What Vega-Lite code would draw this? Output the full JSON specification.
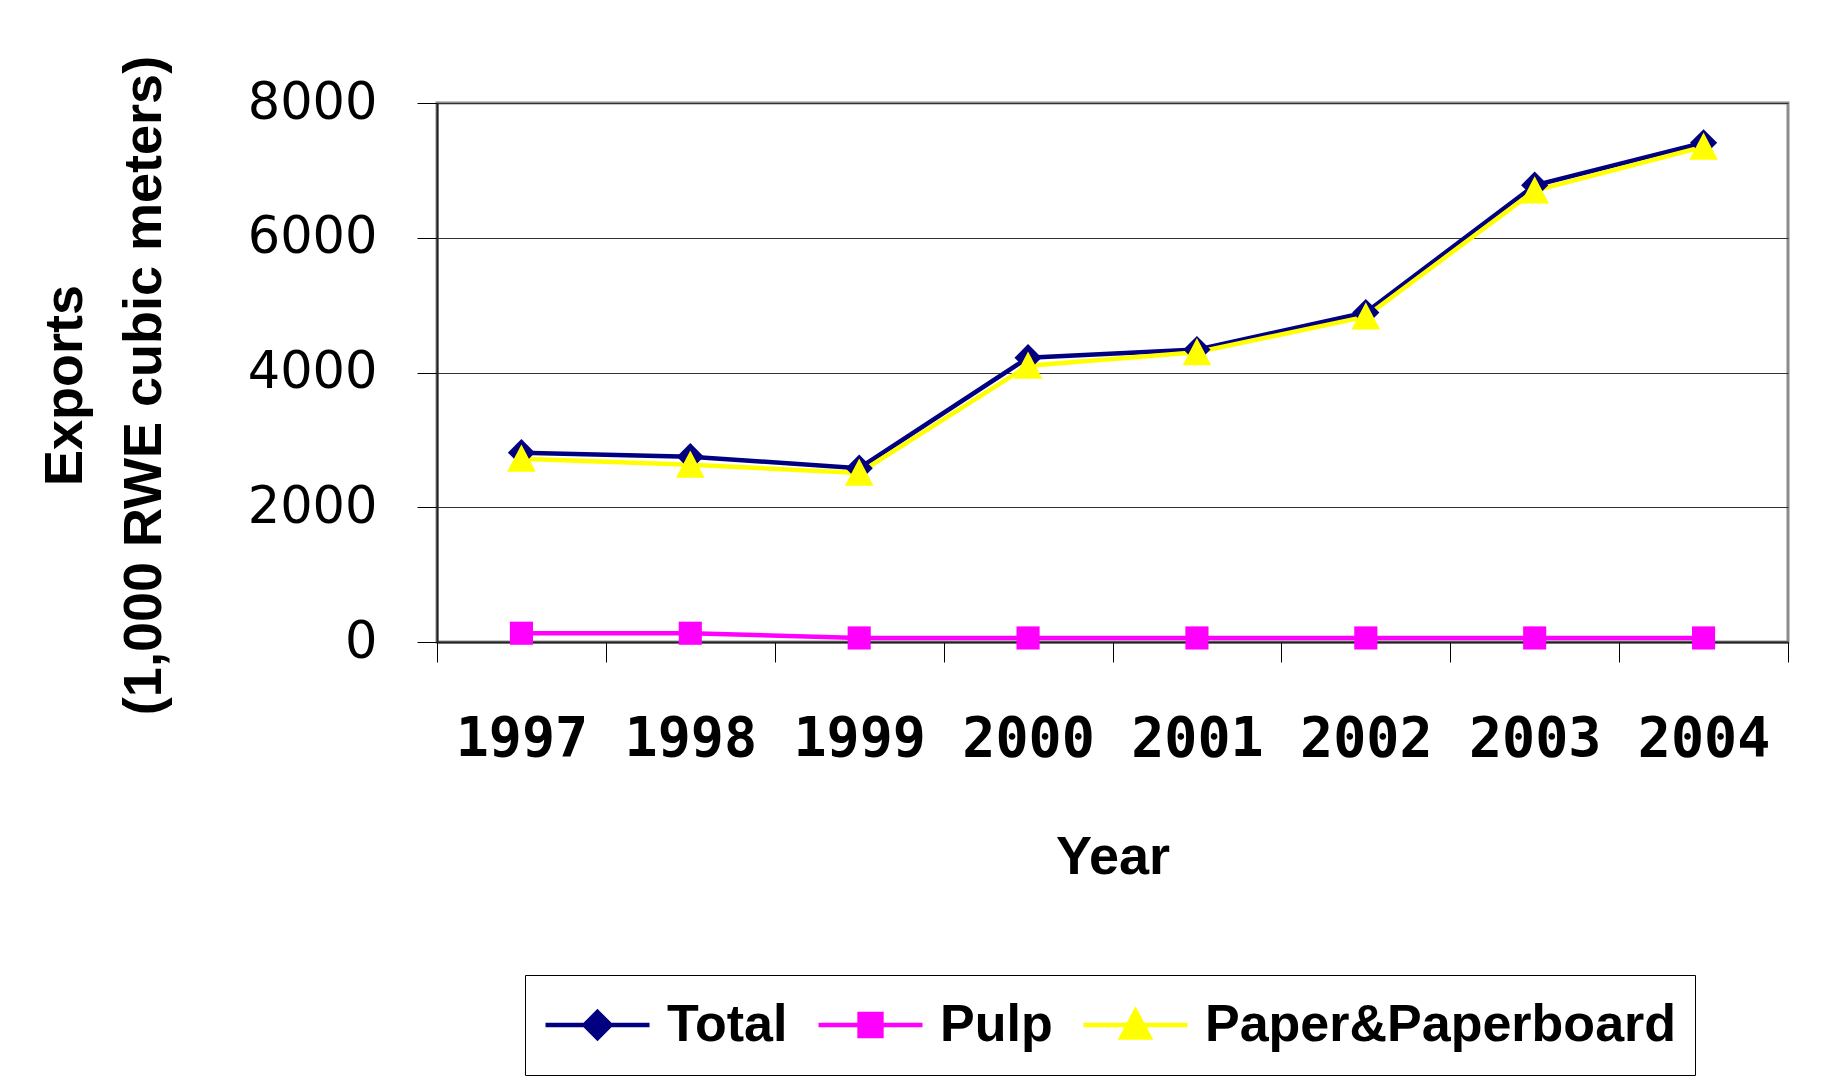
{
  "$schema": "https://vega.github.io/schema/vega-lite/v6.json",
  "width": 1351,
  "height": 539,
  "autosize": {"type": "none"},
  "padding": {"left": 437, "top": 103, "right": 40, "bottom": 440},
  "background": "white",
  "config": {
    "view": {"stroke": "#8c8c8c", "strokeWidth": 3}
  },
  "data": {
    "values": [
      {"Year": "1997", "Series": "Total", "Exports": 2810},
      {"Year": "1998", "Series": "Total", "Exports": 2750},
      {"Year": "1999", "Series": "Total", "Exports": 2580},
      {"Year": "2000", "Series": "Total", "Exports": 4220},
      {"Year": "2001", "Series": "Total", "Exports": 4340},
      {"Year": "2002", "Series": "Total", "Exports": 4890},
      {"Year": "2003", "Series": "Total", "Exports": 6780},
      {"Year": "2004", "Series": "Total", "Exports": 7410},
      {"Year": "1997", "Series": "Pulp", "Exports": 130},
      {"Year": "1998", "Series": "Pulp", "Exports": 130},
      {"Year": "1999", "Series": "Pulp", "Exports": 60},
      {"Year": "2000", "Series": "Pulp", "Exports": 60},
      {"Year": "2001", "Series": "Pulp", "Exports": 60},
      {"Year": "2002", "Series": "Pulp", "Exports": 60},
      {"Year": "2003", "Series": "Pulp", "Exports": 60},
      {"Year": "2004", "Series": "Pulp", "Exports": 60},
      {"Year": "1997", "Series": "Paper&Paperboard", "Exports": 2720},
      {"Year": "1998", "Series": "Paper&Paperboard", "Exports": 2630},
      {"Year": "1999", "Series": "Paper&Paperboard", "Exports": 2510},
      {"Year": "2000", "Series": "Paper&Paperboard", "Exports": 4100},
      {"Year": "2001", "Series": "Paper&Paperboard", "Exports": 4300},
      {"Year": "2002", "Series": "Paper&Paperboard", "Exports": 4830},
      {"Year": "2003", "Series": "Paper&Paperboard", "Exports": 6700},
      {"Year": "2004", "Series": "Paper&Paperboard", "Exports": 7350}
    ]
  },
  "encoding": {
    "x": {
      "field": "Year",
      "type": "ordinal",
      "bandPosition": 0.5,
      "scale": {"type": "band", "paddingInner": 0, "paddingOuter": 0},
      "axis": {
        "title": "Year",
        "labelAngle": 0,
        "tickBand": "extent",
        "grid": false,
        "domainColor": "#222222",
        "domainWidth": 2,
        "tickColor": "black",
        "tickWidth": 1,
        "tickSize": 20,
        "labelFont": "DejaVu Sans Mono",
        "labelFontWeight": "bold",
        "labelFontSize": 55,
        "labelColor": "black",
        "labelPadding": 50,
        "titleFont": "Liberation Sans",
        "titleFontWeight": "bold",
        "titleFontSize": 54,
        "titleColor": "black",
        "titlePadding": 64
      }
    },
    "y": {
      "field": "Exports",
      "type": "quantitative",
      "scale": {"domain": [0, 8000], "nice": false},
      "axis": {
        "title": ["Exports", "(1,000 RWE cubic meters)"],
        "values": [0, 2000, 4000, 6000, 8000],
        "format": "d",
        "grid": true,
        "gridColor": "#333333",
        "gridWidth": 1,
        "domainColor": "#222222",
        "domainWidth": 2,
        "tickColor": "black",
        "tickWidth": 1,
        "tickSize": 20,
        "labelFont": "DejaVu Sans",
        "labelFontSize": 51,
        "labelColor": "black",
        "labelPadding": 40,
        "titleFont": "Liberation Sans",
        "titleFontWeight": "bold",
        "titleFontSize": 54,
        "titleColor": "black",
        "titleLineHeight": 79,
        "titlePadding": 76,
        "titleY": 282
      }
    },
    "color": {
      "field": "Series",
      "type": "nominal",
      "sort": ["Total", "Pulp", "Paper&Paperboard"],
      "scale": {
        "domain": ["Total", "Pulp", "Paper&Paperboard"],
        "range": ["#000080", "#FF00FF", "#FFFF00"]
      },
      "legend": {
        "title": null,
        "orient": "none",
        "legendX": 88,
        "legendY": 872,
        "direction": "horizontal",
        "strokeColor": "black",
        "padding": 18,
        "symbolSize": 10816,
        "symbolStrokeWidth": 4.5,
        "clipHeight": 64,
        "labelFont": "Liberation Sans",
        "labelFontSize": 52,
        "labelFontWeight": "bold",
        "labelColor": "black",
        "labelLimit": 1000,
        "labelOffset": 15,
        "columnPadding": 28,
        "encode": {
          "symbols": {
            "update": {
              "shape": {"signal": "datum.value === 'Total' ? 'M-1,0H1M0,-0.25L0.25,0L0,0.25L-0.25,0Z' : datum.value === 'Pulp' ? 'M-1,0H1M-0.21,-0.21H0.21V0.21H-0.21Z' : 'M-1,0H1M0,-0.27L0.27,0.24H-0.27Z'"},
              "stroke": {"signal": "scale('color', datum.value)"},
              "fill": {"signal": "scale('color', datum.value)"},
              "strokeWidth": {"value": 4.5},
              "opacity": {"value": 1}
            }
          }
        }
      }
    }
  },
  "layer": [
    {"mark": {"type": "line", "strokeWidth": 4.5}},
    {
      "transform": [{"filter": "datum.Series === 'Total'"}],
      "mark": {"type": "point", "filled": true, "size": 740, "opacity": 1, "shape": "M-1,0L0,-1L1,0L0,1Z"}
    },
    {
      "transform": [{"filter": "datum.Series === 'Pulp'"}],
      "mark": {"type": "point", "filled": true, "size": 740, "opacity": 1, "shape": "M-0.85,-0.85H0.85V0.85H-0.85Z"}
    },
    {
      "transform": [{"filter": "datum.Series === 'Paper&Paperboard'"}],
      "mark": {"type": "point", "filled": true, "size": 740, "opacity": 1, "shape": "M0,-1.05L1.05,0.95H-1.05Z"}
    }
  ]
}
